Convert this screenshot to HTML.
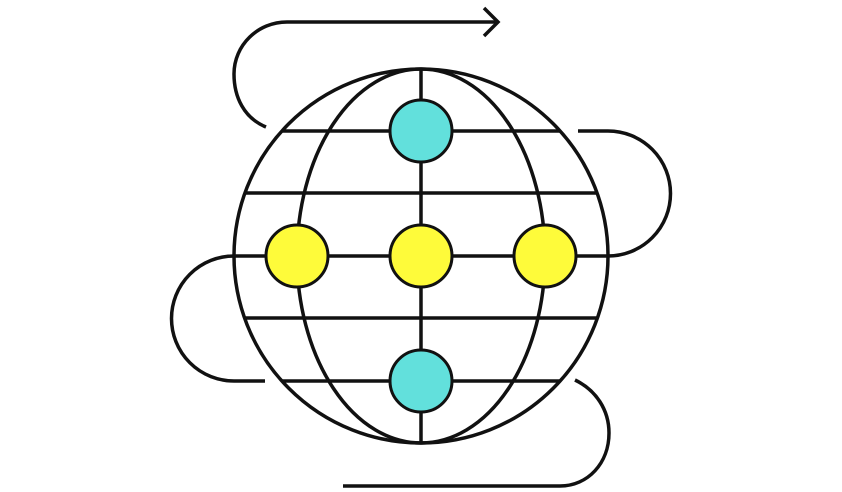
<!DOCTYPE html>
<html><head><meta charset="utf-8"><style>html,body{margin:0;padding:0;background:#fff}svg{display:block}</style></head>
<body>
<svg width="842" height="492" viewBox="0 0 842 492" xmlns="http://www.w3.org/2000/svg">
<g fill="none" stroke="#111" stroke-width="3.5" stroke-linecap="butt">
<circle cx="421" cy="256" r="187"/>
<ellipse cx="421" cy="256" rx="124" ry="187"/>
<line x1="421" y1="69" x2="421" y2="443"/>
<line x1="282" y1="131" x2="560" y2="131"/>
<line x1="244" y1="193" x2="598" y2="193"/>
<line x1="234" y1="256" x2="608" y2="256"/>
<line x1="244" y1="318" x2="598" y2="318"/>
<line x1="282" y1="381" x2="560" y2="381"/>
<path d="M266,127 C244,118 234,97 234,74 C234,45 258,22 287,22 H498"/>
<path d="M484,8 L498,22 L484,36"/>
<path d="M578,131 H608 A62,62 0 0 1 608,256"/>
<path d="M234,256 A62,62 0 0 0 234,381 H265"/>
<path d="M575,380 C596,390 609,410 609,433 C609,463 588,486 560,486 H343"/>
</g>
<g stroke="#111" stroke-width="3">
<circle cx="421" cy="131" r="31" fill="#62e0dc"/>
<circle cx="421" cy="381" r="31" fill="#62e0dc"/>
<circle cx="297" cy="256" r="31" fill="#fefb3a"/>
<circle cx="421" cy="256" r="31" fill="#fefb3a"/>
<circle cx="545" cy="256" r="31" fill="#fefb3a"/>
</g>
</svg>
</body></html>
